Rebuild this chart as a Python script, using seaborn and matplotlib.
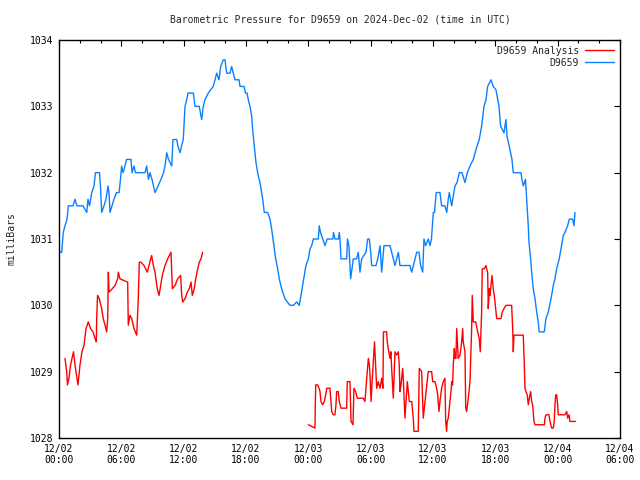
import numpy as np
import pandas as pd
import matplotlib
matplotlib.use("Agg")
import matplotlib.pyplot as plt
import matplotlib.dates as mdates
from matplotlib.lines import Line2D
import seaborn as sns

# hours after 2024-12-02 00:00 UTC, pressure in mbar
obs_hours = [0.10, 0.26, 0.41, 0.58, 0.77, 0.90, 1.35, 1.54, 1.73, 2.31, 2.67, 2.79, 2.94, 3.15, 3.37,
             3.51, 3.90, 3.99, 4.11, 4.33, 4.52, 4.72, 4.81, 4.91, 5.10, 5.29, 5.53, 5.78, 5.92, 6.03,
             6.16, 6.35, 6.50, 6.93, 7.03, 7.22, 7.36, 8.28, 8.44, 8.61, 8.76, 8.95, 9.24, 9.53, 9.82,
             10.06, 10.20, 10.37, 10.54, 10.85, 10.97, 11.33, 11.45, 11.65, 11.79, 11.96, 12.06, 12.13,
             12.29, 12.42, 12.93, 13.09, 13.50, 13.73, 13.89, 14.05, 14.37, 14.85, 15.02, 15.18, 15.40,
             15.56, 15.81, 15.98, 16.14, 16.46, 16.62, 16.78, 16.94, 17.33, 17.42, 17.81, 17.95, 18.10,
             18.22, 18.38, 18.55, 18.64, 18.77, 18.96, 19.18, 19.35, 19.61, 19.76, 20.09, 20.31, 20.47,
             20.69, 20.86, 21.05, 21.20, 21.43, 21.75, 22.23, 22.55, 22.88, 23.13, 23.29, 23.51, 23.77,
             24.00, 24.16, 24.32, 24.48, 24.96, 25.05, 25.17, 25.38, 25.60, 25.82, 26.37, 26.42, 26.57,
             26.90, 26.98, 27.05, 27.14, 27.69, 27.77, 27.91, 28.07, 28.33, 28.65, 28.81, 28.97, 29.13,
             29.55, 29.71, 29.87, 30.00, 30.10, 30.51, 30.68, 30.90, 31.06, 31.28, 31.86, 32.02, 32.34,
             32.66, 32.82, 33.14, 33.78, 33.95, 34.27, 34.43, 34.65, 34.81, 35.01, 35.13, 35.29, 35.54,
             35.71, 35.85, 36.03, 36.14, 36.31, 36.67, 36.83, 37.15, 37.32, 37.47, 37.57, 37.80, 37.95,
             38.12, 38.31, 38.53, 38.79, 39.08, 39.30, 39.56, 39.88, 40.14, 40.45, 40.68, 40.91, 41.10,
             41.26, 41.58, 41.80, 42.06, 42.35, 42.51, 42.83, 43.02, 43.12, 43.34, 43.60, 43.73, 44.47,
             44.56, 44.69, 44.90, 44.98, 45.07, 45.17, 45.24, 45.40, 45.50, 45.65, 45.82, 45.98, 46.13,
             46.23, 46.71, 46.87, 47.10, 47.36, 47.58, 47.74, 47.90, 48.15, 48.32, 48.54, 48.70, 48.96,
             49.12, 49.44, 49.57, 49.67]
obs_mbar = [1030.8, 1030.8, 1031.1, 1031.2, 1031.3, 1031.5, 1031.5, 1031.6, 1031.5, 1031.5, 1031.4,
            1031.6, 1031.5, 1031.7, 1031.8, 1032.0, 1032.0, 1031.8, 1031.4, 1031.5, 1031.6, 1031.8,
            1031.7, 1031.4, 1031.5, 1031.6, 1031.7, 1031.7, 1031.9, 1032.1, 1032.0, 1032.1, 1032.2,
            1032.2, 1032.0, 1032.1, 1032.0, 1032.0, 1032.1, 1031.9, 1032.0, 1031.9, 1031.7, 1031.8,
            1031.9, 1032.0, 1032.1, 1032.3, 1032.2, 1032.1, 1032.5, 1032.5, 1032.4, 1032.3, 1032.4,
            1032.5, 1032.8, 1033.0, 1033.1, 1033.2, 1033.2, 1033.0, 1033.0, 1032.8, 1033.0, 1033.1,
            1033.2, 1033.3, 1033.4, 1033.5, 1033.4, 1033.6, 1033.7, 1033.7, 1033.5, 1033.5, 1033.6,
            1033.5, 1033.4, 1033.4, 1033.3, 1033.3, 1033.2, 1033.2, 1033.1, 1033.0, 1032.85, 1032.65,
            1032.45, 1032.15, 1031.95, 1031.85, 1031.6, 1031.4, 1031.4, 1031.3, 1031.15, 1030.9,
            1030.7, 1030.55, 1030.4, 1030.25, 1030.1, 1030.0, 1030.0, 1030.05, 1030.0, 1030.15,
            1030.35, 1030.6, 1030.7, 1030.85, 1030.9, 1031.0, 1031.0, 1031.2, 1031.1, 1031.0, 1030.9,
            1031.0, 1031.0, 1031.1, 1031.0, 1031.0, 1031.1, 1031.0, 1030.7, 1030.7, 1031.0, 1030.9,
            1030.4, 1030.7, 1030.7, 1030.8, 1030.5, 1030.7, 1030.8, 1031.0, 1031.0, 1030.8, 1030.6,
            1030.6, 1030.7, 1030.9, 1030.5, 1030.9, 1030.9, 1030.8, 1030.6, 1030.8, 1030.6, 1030.6,
            1030.6, 1030.5, 1030.7, 1030.8, 1030.8, 1030.6, 1030.5, 1031.0, 1030.9, 1031.0, 1030.9,
            1031.0, 1031.4, 1031.4, 1031.7, 1031.7, 1031.5, 1031.5, 1031.4, 1031.6, 1031.7, 1031.5,
            1031.65, 1031.8, 1031.85, 1032.0, 1032.0, 1031.85, 1032.0, 1032.1, 1032.2, 1032.35,
            1032.5, 1032.7, 1033.0, 1033.1, 1033.3, 1033.4, 1033.3, 1033.25, 1033.0, 1032.7, 1032.6,
            1032.8, 1032.55, 1032.4, 1032.2, 1032.0, 1032.0, 1031.9, 1031.8, 1031.9, 1031.7, 1031.5,
            1031.2, 1030.95, 1030.7, 1030.5, 1030.25, 1030.1, 1029.9, 1029.75, 1029.6, 1029.6, 1029.8,
            1029.9, 1030.1, 1030.3, 1030.4, 1030.55, 1030.7, 1030.85, 1031.05, 1031.1, 1031.2, 1031.3,
            1031.3, 1031.2, 1031.4]

# analysis series, first run (before the gap)
ana1_hours = [0.58, 0.74, 0.82, 0.96, 1.11, 1.25, 1.40, 1.54, 1.73, 1.83, 2.02, 2.21, 2.41, 2.60, 2.82,
              3.03, 3.27, 3.47, 3.59, 3.63, 3.71, 3.88, 4.11, 4.26, 4.43, 4.59, 4.69, 4.75, 4.81, 5.13,
              5.39, 5.65, 5.71, 5.87, 6.61, 6.67, 6.83, 7.00, 7.22, 7.48, 7.63, 7.73, 7.89, 8.18, 8.50,
              8.66, 8.83, 8.92, 9.08, 9.24, 9.46, 9.63, 9.79, 9.94, 10.20, 10.46, 10.78, 10.85, 10.91,
              11.17, 11.42, 11.71, 11.81, 11.91, 12.13, 12.35, 12.54, 12.71, 12.83, 13.02, 13.16, 13.35,
              13.50, 13.67, 13.83]
ana1_mbar = [1029.2, 1029.0, 1028.8, 1028.9, 1029.1, 1029.2, 1029.3, 1029.1, 1028.9, 1028.8, 1029.1,
             1029.3, 1029.4, 1029.65, 1029.75, 1029.65, 1029.6, 1029.5, 1029.45, 1029.8, 1030.15,
             1030.1, 1029.95, 1029.8, 1029.7, 1029.6, 1029.8, 1030.5, 1030.2, 1030.25, 1030.3, 1030.4,
             1030.5, 1030.4, 1030.35, 1029.7, 1029.85, 1029.8, 1029.65, 1029.55, 1030.1, 1030.65,
             1030.65, 1030.6, 1030.5, 1030.6, 1030.7, 1030.75, 1030.6, 1030.5, 1030.25, 1030.15, 1030.3,
             1030.45, 1030.6, 1030.7, 1030.8, 1030.5, 1030.25, 1030.3, 1030.4, 1030.45, 1030.15,
             1030.05, 1030.1, 1030.2, 1030.25, 1030.35, 1030.15, 1030.25, 1030.4, 1030.55, 1030.65,
             1030.7, 1030.8]

# analysis series, second run (after the gap)
ana2_hours = [24.00, 24.64, 24.67, 24.71, 24.90, 25.03, 25.12, 25.22, 25.38, 25.54, 25.67, 25.77, 26.08,
              26.18, 26.25, 26.40, 26.56, 26.66, 26.73, 26.88, 26.98, 27.14, 27.53, 27.69, 27.75, 28.01,
              28.11, 28.30, 28.39, 28.56, 28.71, 29.29, 29.45, 29.62, 29.78, 29.88, 29.95, 30.04, 30.14,
              30.37, 30.47, 30.58, 30.73, 30.90, 31.06, 31.18, 31.23, 31.54, 31.60, 31.69, 31.86, 31.95,
              32.02, 32.18, 32.34, 32.50, 32.66, 32.75, 32.82, 32.92, 33.08, 33.14, 33.30, 33.47, 33.53,
              33.72, 33.95, 34.10, 34.17, 34.58, 34.68, 34.91, 35.00, 35.06, 35.23, 35.39, 35.54, 35.87,
              35.97, 36.19, 36.35, 36.45, 36.58, 36.67, 36.83, 36.99, 37.15, 37.22, 37.31, 37.37, 37.47,
              37.63, 37.73, 37.80, 37.89, 37.95, 38.05, 38.12, 38.21, 38.28, 38.43, 38.60, 38.76, 38.86,
              38.91, 39.08, 39.15, 39.24, 39.40, 39.56, 39.72, 39.78, 39.88, 40.11, 40.30, 40.45, 40.55,
              40.68, 40.74, 40.93, 41.10, 41.16, 41.26, 41.32, 41.42, 41.49, 41.58, 41.68, 41.80, 41.90,
              42.03, 42.13, 42.54, 42.67, 42.83, 43.02, 43.57, 43.67, 43.73, 43.79, 44.69, 44.78, 44.85,
              44.95, 45.07, 45.17, 45.27, 45.40, 45.50, 45.59, 45.72, 45.82, 46.72, 46.78, 46.87, 47.16,
              47.26, 47.42, 47.58, 47.67, 47.74, 47.81, 47.90, 48.00, 48.06, 48.70, 48.87, 48.96, 49.09,
              49.18, 49.73]
ana2_mbar = [1028.2, 1028.15, 1028.5, 1028.8, 1028.8, 1028.75, 1028.7, 1028.55, 1028.5, 1028.55,
             1028.65, 1028.75, 1028.75, 1028.55, 1028.4, 1028.35, 1028.35, 1028.5, 1028.7, 1028.7,
             1028.55, 1028.45, 1028.45, 1028.45, 1028.85, 1028.85, 1028.25, 1028.2, 1028.75, 1028.7,
             1028.6, 1028.6, 1028.55, 1028.9, 1029.2, 1029.1, 1028.9, 1028.55, 1028.85, 1029.45,
             1029.1, 1028.75, 1028.85, 1028.75, 1028.9, 1028.75, 1029.6, 1029.6, 1029.45, 1029.35,
             1029.2, 1029.3, 1029.05, 1028.6, 1029.3, 1029.25, 1029.3, 1029.1, 1028.7, 1028.8, 1029.05,
             1028.9, 1028.3, 1028.7, 1028.85, 1028.55, 1028.55, 1028.3, 1028.1, 1028.1, 1029.05,
             1029.0, 1028.6, 1028.3, 1028.55, 1028.8, 1029.0, 1029.0, 1028.85, 1028.85, 1028.75,
             1028.65, 1028.4, 1028.55, 1028.75, 1028.85, 1028.9, 1028.25, 1028.1, 1028.25, 1028.3,
             1028.55, 1028.7, 1028.85, 1028.8, 1029.1, 1029.35, 1029.2, 1029.2, 1029.65, 1029.2,
             1029.25, 1029.45, 1029.65, 1029.45, 1029.3, 1028.45, 1028.4, 1028.6, 1028.85, 1029.65,
             1030.15, 1029.75, 1029.75, 1029.6, 1029.5, 1029.3, 1029.9, 1030.55, 1030.55, 1030.6,
             1030.55, 1030.5, 1029.95, 1030.25, 1030.15, 1030.3, 1030.45, 1030.25, 1030.15, 1029.95,
             1029.8, 1029.8, 1029.9, 1029.95, 1030.0, 1030.0, 1029.65, 1029.3, 1029.55, 1029.55,
             1029.15, 1028.75, 1028.7, 1028.65, 1028.5, 1028.6, 1028.7, 1028.55, 1028.5, 1028.25,
             1028.2, 1028.2, 1028.3, 1028.35, 1028.35, 1028.25, 1028.15, 1028.15, 1028.25, 1028.5,
             1028.65, 1028.65, 1028.5, 1028.35, 1028.35, 1028.4, 1028.3, 1028.35, 1028.25, 1028.25]

station = "D9659"
start = pd.Timestamp("2024-12-02 00:00")
end = pd.Timestamp("2024-12-04 06:00")


def to_frame(hours, mbar, run):
    return pd.DataFrame({"time": start + pd.to_timedelta(hours, unit="h"),
                         "mbar": mbar, "run": run})


obs = to_frame(obs_hours, obs_mbar, 0)
ana = pd.concat([to_frame(ana1_hours, ana1_mbar, 1), to_frame(ana2_hours, ana2_mbar, 2)])

sns.set_style("white")
plt.rcParams["font.family"] = ["DejaVu Sans Mono"]

red = "#ff0000"
blue = "#0a80ff"

fig = plt.figure(figsize=(6.4, 4.8), dpi=100)
ax = fig.add_axes([59 / 640, 42 / 480, 561 / 640, 398 / 480])

# analysis drawn as two separate runs so the gap stays open
sns.lineplot(data=ana, x="time", y="mbar", units="run", estimator=None,
             color=red, lw=1, ax=ax)
sns.lineplot(data=obs, x="time", y="mbar", color=blue, lw=1, ax=ax)

ax.set_xlim(start, end)
ax.set_ylim(1028, 1034)
ax.set_yticks(np.arange(1028, 1035, 1))
ax.xaxis.set_major_locator(mdates.HourLocator(byhour=[0, 6, 12, 18]))
ax.xaxis.set_minor_locator(mdates.HourLocator(interval=2))
ax.xaxis.set_major_formatter(mdates.DateFormatter("%m/%d\n%H:%M"))

ax.tick_params(axis="both", which="both", direction="in", top=True, right=True,
               labelsize=7, colors="black", width=0.8)
ax.tick_params(axis="both", which="major", length=4, pad=4)
ax.tick_params(axis="x", which="minor", length=2)
for s in ax.spines.values():
    s.set_color("black")
    s.set_linewidth(1)

ax.set_xlabel("")
ax.set_ylabel("milliBars", fontsize=7, labelpad=10)
fig.text(340 / 640, 1 - 20 / 480, f"Barometric Pressure for {station} on 2024-Dec-02 (time in UTC)",
         ha="center", va="center", fontsize=7)

handles = [Line2D([], [], color=red, lw=1), Line2D([], [], color=blue, lw=1)]
ax.legend(handles, [f"{station} Analysis", station], loc="upper right", frameon=False,
          markerfirst=False, fontsize=7, handlelength=3, handletextpad=0.6,
          labelspacing=0.2, borderaxespad=0.3, borderpad=0.3)

fig.savefig("out.png", dpi=100)
